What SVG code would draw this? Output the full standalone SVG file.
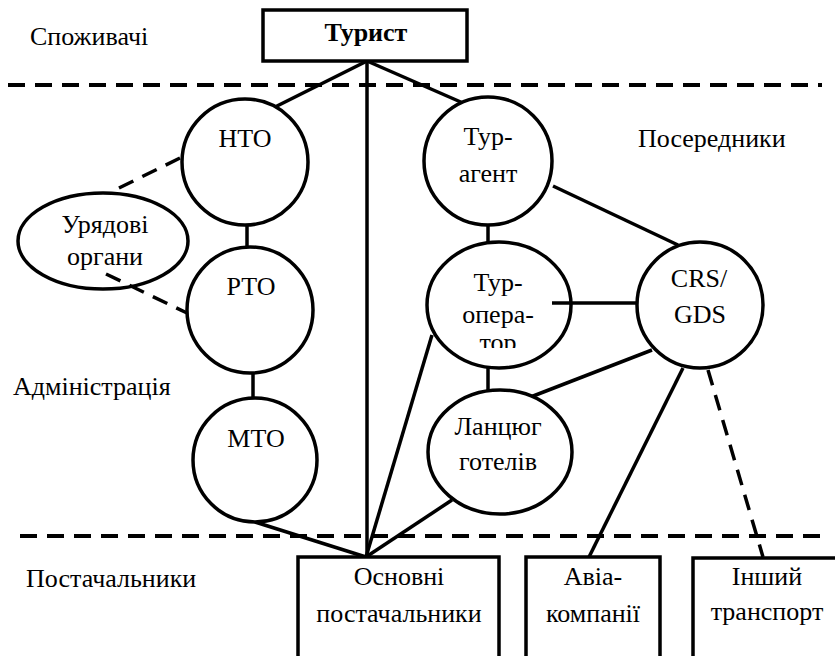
<svg xmlns="http://www.w3.org/2000/svg" width="835" height="656" viewBox="0 0 835 656">
<style>
text{font-family:'Liberation Serif','Tinos','Times New Roman','DejaVu Serif',serif;font-size:26px;fill:#000}
.c{text-anchor:middle}
.b{font-weight:bold}
.n{fill:#fff;stroke:#000;stroke-width:3.5}
.l{stroke:#000;stroke-width:3.5;fill:none}
.d{stroke:#000;stroke-width:3.5;fill:none;stroke-dasharray:16 10}
.sep{stroke:#000;stroke-width:4;fill:none;stroke-dasharray:17 10}
</style>
<defs>
<clipPath id="clipTO"><rect x="420" y="240" width="160" height="108"/></clipPath>
</defs>
<rect width="835" height="656" fill="#fff"/>
<g id="separators">
<line class="sep" x1="8" y1="85" x2="822" y2="85"/>
<line class="sep" x1="20" y1="536" x2="820" y2="536"/>
</g>
<g id="labels">
<text x="30" y="45">Споживачі</text>
<text x="638" y="147">Посередники</text>
<text x="13" y="395">Адміністрація</text>
<text x="26" y="587">Постачальники</text>
</g>
<g id="connectors">
<line class="l" x1="367" y1="61" x2="275" y2="107"/>
<line class="l" x1="367" y1="61" x2="463" y2="103"/>
<line class="l" x1="367" y1="61" x2="367" y2="557"/>
<line class="l" x1="247" y1="225" x2="247" y2="247"/>
<line class="l" x1="253" y1="373" x2="253" y2="398"/>
<line class="l" x1="255" y1="522" x2="366" y2="557"/>
<line class="l" x1="488" y1="225" x2="488" y2="242"/>
<line class="l" x1="553" y1="186" x2="678" y2="245"/>
<line class="l" x1="488" y1="368" x2="488" y2="390"/>
<line class="l" x1="652" y1="350" x2="528" y2="398"/>
<line class="l" x1="452" y1="500" x2="366" y2="557"/>
<line class="l" x1="432" y1="335" x2="366" y2="557"/>
<line class="l" x1="683" y1="368" x2="589" y2="557"/>
<line class="d" x1="708" y1="370" x2="763" y2="557"/>
</g>
<g id="tourist">
<rect class="n" x="263" y="10" width="204" height="51"/>
<text class="c b" x="366" y="41">Турист</text>
</g>
<g id="nto">
<circle class="n" cx="245" cy="162" r="63"/>
<text class="c" x="245" y="147">НТО</text>
</g>
<g id="uryadovi">
<ellipse class="n" cx="103" cy="241" rx="85" ry="48"/>
<text class="c" x="105" y="233">Урядові</text>
<text class="c" x="105" y="265">органи</text>
</g>
<g id="rto">
<circle class="n" cx="250" cy="310" r="63"/>
<text class="c" x="251" y="295">РТО</text>
</g>
<g id="mto">
<circle class="n" cx="255" cy="460" r="62"/>
<text class="c" x="256" y="447">МТО</text>
</g>
<g id="turagent">
<circle class="n" cx="488" cy="161" r="64"/>
<text class="c" x="488" y="145">Тур-</text>
<text class="c" x="488" y="182">агент</text>
</g>
<g id="turoperator">
<ellipse class="n" cx="499" cy="305" rx="72" ry="63"/>
<text class="c" x="498" y="291">Тур-</text>
<text class="c" x="498" y="323">опера-</text>
<text class="c" x="498" y="351" clip-path="url(#clipTO)">тор</text>
</g>
<g id="crs">
<circle class="n" cx="700" cy="305" r="63"/>
<text class="c" x="699" y="287">CRS/</text>
<text class="c" x="700" y="323">GDS</text>
</g>
<g id="lantsyug">
<ellipse class="n" cx="500" cy="452" rx="72" ry="62"/>
<text class="c" x="498" y="435">Ланцюг</text>
<text class="c" x="498" y="470">готелів</text>
</g>
<g id="osnovni">
<rect class="n" x="298" y="557" width="201" height="110"/>
<text class="c" x="399" y="585">Основні</text>
<text class="c" x="399" y="622">постачальники</text>
</g>
<g id="avia">
<rect class="n" x="526" y="557" width="134" height="110"/>
<text class="c" x="593" y="585">Авіа-</text>
<text class="c" x="593" y="622">компанії</text>
</g>
<g id="inshyi">
<rect class="n" x="693" y="558" width="150" height="110"/>
<text class="c" x="767" y="585">Інший</text>
<text class="c" x="767" y="620">транспорт</text>
</g>
<g id="connectors-over">
<line class="l" x1="552" y1="303" x2="637" y2="303"/>
<line class="d" x1="180" y1="158" x2="117" y2="189"/>
<line class="d" x1="106" y1="274" x2="187" y2="313" stroke-dasharray="3 10 16 10 16 10 16 10"/>
</g>
</svg>
